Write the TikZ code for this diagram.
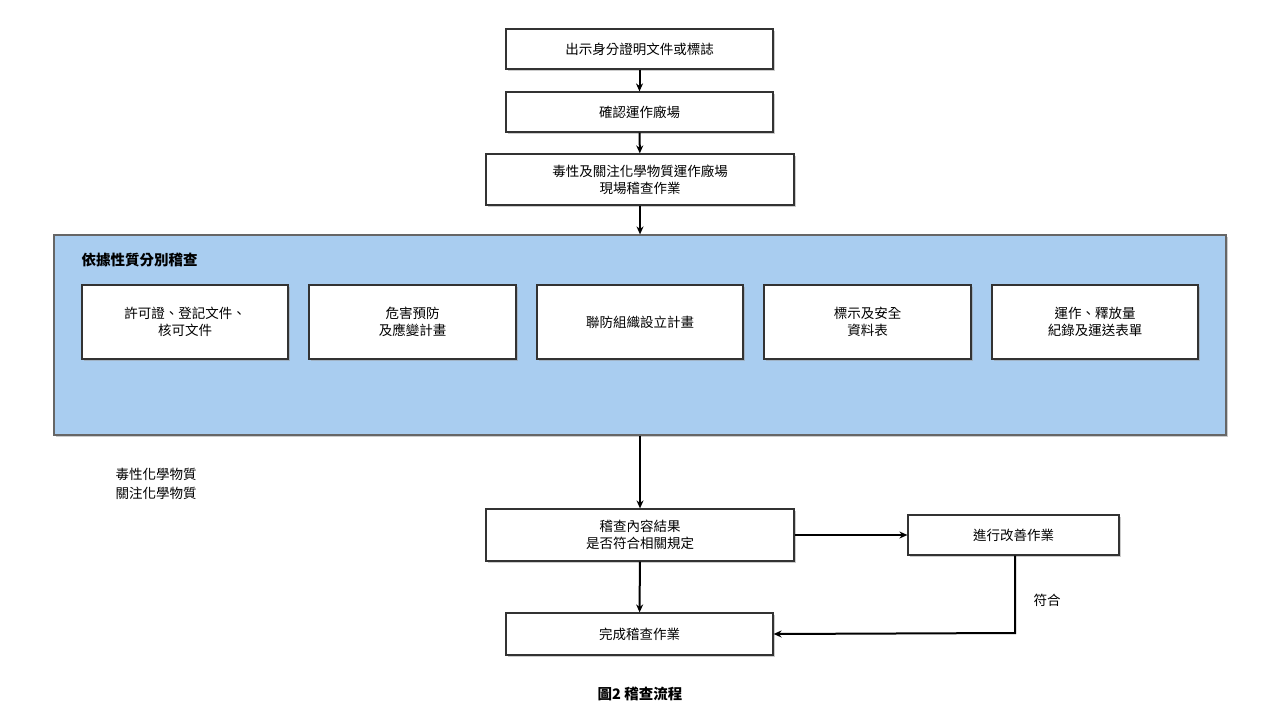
\documentclass[tikz,border=0pt]{standalone}
\usepackage{fontspec}
\setmainfont{Noto Sans CJK TC}
\usetikzlibrary{shadows,arrows.meta}
\begin{document}
\begin{tikzpicture}[x=1pt,y=-1pt,
  box/.style={draw=black!80,line width=1.2pt,fill=white,drop shadow={shadow xshift=2pt,shadow yshift=-2pt,fill=black!40},align=center,font=\fontsize{13.5}{17}\selectfont,inner sep=0pt},
  arr/.style={line width=2pt,-{Stealth[length=8pt,width=7pt]}}]
\useasboundingbox (0,0) rectangle (1280,720);
\node[box,minimum width=267pt,minimum height=40pt] (b1) at (639.5,49) {出示身分證明文件或標誌};
\node[box,minimum width=267pt,minimum height=40pt] (b2) at (639.5,112) {確認運作廠場};
\node[box,minimum width=308pt,minimum height=51pt] (b3) at (640,179.5) {毒性及關注化學物質運作廠場\\現場稽查作業};
\node[draw=black!60,line width=1.2pt,fill={rgb,255:red,169;green,205;blue,240},minimum width=1172pt,minimum height=200pt,inner sep=0pt,drop shadow={shadow xshift=2pt,shadow yshift=-2pt,fill=black!40}] (panel) at (640,335) {};
\node[anchor=west,font=\fontsize{14.5}{17}\selectfont\bfseries] (pt) at (78,260) {依據性質分別稽查};
\node[box,minimum width=206pt,minimum height=74pt] (i1) at (185,322) {許可證、登記文件、\\核可文件};
\node[box,minimum width=207pt,minimum height=74pt] (i2) at (412.5,322) {危害預防\\及應變計畫};
\node[box,minimum width=206pt,minimum height=74pt] (i3) at (640,322) {聯防組織設立計畫};
\node[box,minimum width=207pt,minimum height=74pt] (i4) at (867.5,322) {標示及安全\\資料表};
\node[box,minimum width=206pt,minimum height=74pt] (i5) at (1095,322) {運作、釋放量\\紀錄及運送表單};
\node[anchor=west,align=left,font=\fontsize{13.5}{19}\selectfont] (side) at (112,484) {毒性化學物質\\關注化學物質};
\node[box,minimum width=308pt,minimum height=52pt] (j) at (640,535) {稽查內容結果\\是否符合相關規定};
\node[box,minimum width=211pt,minimum height=40pt] (imp) at (1013.5,535) {進行改善作業};
\node[box,minimum width=267pt,minimum height=42pt] (fin) at (639.5,634) {完成稽查作業};
\coordinate (c1) at (1015,633);
\node[font=\fontsize{13.5}{17}\selectfont] (ok) at (1047,600) {符合};
\node[font=\fontsize{14.5}{17}\selectfont\bfseries] (cap) at (640,694) {圖2 稽查流程};
\draw[arr] (b1) -- (b2);
\draw[arr] (b2) -- (b3);
\draw[arr] (b3) -- (panel);
\draw[arr] (panel) -- (j);
\draw[arr] (j) -- (imp);
\draw[arr] (j) -- (fin);
\draw[arr] (imp.south -| c1) -- (c1) -- (fin.east);
\end{tikzpicture}
\end{document}
